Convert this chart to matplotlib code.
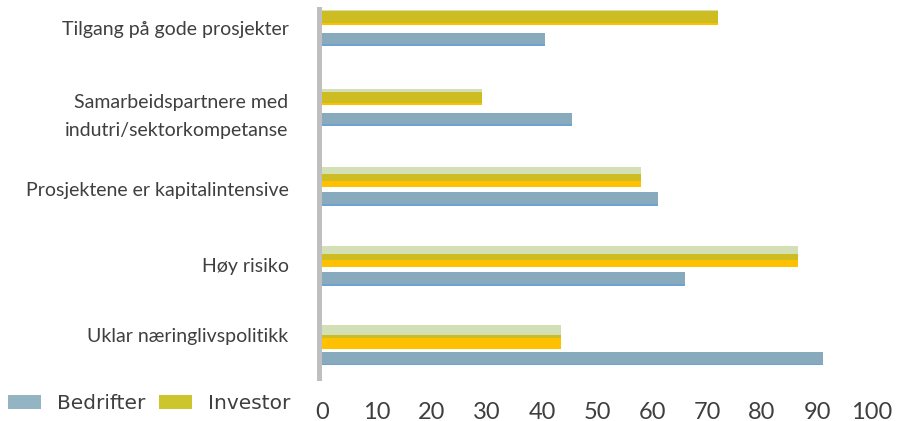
import matplotlib
matplotlib.use("Agg")
import matplotlib.pyplot as plt
from matplotlib.patches import Patch
from matplotlib import transforms

# --- data -------------------------------------------------------------
categories = [
    "Tilgang på gode prosjekter",
    "Samarbeidspartnere med\nindutri/sektorkompetanse",
    "Prosjektene er kapitalintensive",
    "Høy risiko",
    "Uklar næringlivspolitikk",
]
bedrifter = [40.5, 45.5, 61, 66, 91]
investor = [72, 29, 58, 86.5, 43.5]
series_names = ["Bedrifter", "Investor"]
xticks = [0, 10, 20, 30, 40, 50, 60, 70, 80, 90, 100]

# --- style ------------------------------------------------------------
BLUE = "#87aabd"
BLUE_EDGE = "#6a9fd8"
OLIVE = "#cdbd22"
LIGHT_GREEN = "#d3dfb5"
ORANGE = "#ffc000"
TEXT = "#3f3f3f"
LEG_BLUE = "#93b4c3"
LEG_OLIVE = "#ccc62c"

W, H = 897, 421
GROUP_PX = 79.8          # vertical distance between groups in pixels
BAR_PX = 13.5            # bar thickness in pixels
# vertical separation (px) between the green and orange layers of the investor bar
layer_shift_px = [1.5, 2.5, 6.5, 7.5, 10.5]
# fine vertical nudges (px, downward) for the category labels
label_nudge_px = [2.5, 9, 3, -0.5, -10.5]
LABEL_GAP_PX = 30        # gap between label right edge and the axis line

fig = plt.figure(figsize=(W / 100, H / 100), dpi=100)
fig.patch.set_facecolor("white")

ax_left, ax_right = 318.5, 872.0
ax_top, ax_bottom = 9.0, 378.0
ax = fig.add_axes([ax_left / W, 1 - ax_bottom / H,
                   (ax_right - ax_left) / W, (ax_bottom - ax_top) / H])

px = 1.0 / GROUP_PX
first_center = 27.5
ax.set_ylim((ax_bottom - first_center) * px, (ax_top - first_center) * px)
ax.set_xlim(-0.64, 100)

h = BAR_PX * px
for i, (b, v) in enumerate(zip(bedrifter, investor)):
    yb = i + 12 * px
    yi = i - 10 * px
    # Bedrifter bar with a thin brighter lower edge
    ax.barh(yb, b, height=h, color=BLUE, linewidth=0)
    ax.barh(yb + h / 2 - 0.9 * px, b, height=1.8 * px, color=BLUE_EDGE,
            linewidth=0, alpha=0.8)
    # Investor bar: light green layer on top, orange below, olive where they overlap
    s = layer_shift_px[i] * px
    ax.barh(yi - s / 2, v, height=h, color=LIGHT_GREEN, linewidth=0)
    ax.barh(yi + s / 2, v, height=h, color=ORANGE, linewidth=0)
    ax.barh(yi, v, height=h - s, color=OLIVE, linewidth=0)

# axes cosmetics
for side in ("top", "right", "bottom"):
    ax.spines[side].set_visible(False)
ax.spines["left"].set_color("#bfbfbf")
ax.spines["left"].set_linewidth(3.6)
ax.set_yticks([])
ax.set_xticks(xticks)
ax.set_xticklabels([str(t) for t in xticks],
                   fontfamily=["Liberation Sans Narrow", "Lato"], fontsize=17,
                   color=TEXT)
ax.tick_params(axis="x", length=0, pad=17)

# category labels
for i, lab in enumerate(categories):
    off = transforms.offset_copy(ax.transData, fig=fig,
                                 x=-LABEL_GAP_PX * 0.72,
                                 y=-label_nudge_px[i] * 0.72, units="points")
    ax.text(-0.64, i, lab, transform=off, ha="right", va="center",
            fontfamily="Lato", fontsize=14, color=TEXT, linespacing=1.8,
            clip_on=False)

# legend
handles = [Patch(facecolor=LEG_BLUE, edgecolor="none"),
           Patch(facecolor=LEG_OLIVE, edgecolor="none")]
fig.legend(handles, series_names, loc="center left",
           bbox_to_anchor=(8 / W, 1 - 403.5 / H), ncol=2, frameon=False,
           borderpad=0, borderaxespad=0, handlelength=1.66, handleheight=0.63,
           handletextpad=0.75, columnspacing=0.7,
           prop={"family": "DejaVu Sans", "size": 14.5}, labelcolor=TEXT)

fig.savefig("out.png", dpi=100, facecolor="white")
